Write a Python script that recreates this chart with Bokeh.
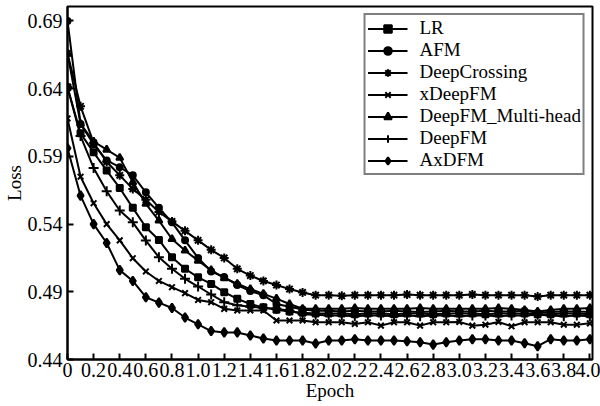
from bokeh.plotting import figure
from bokeh.models import Range1d, FixedTicker, Legend
from bokeh.embed import file_html
from bokeh.resources import INLINE

epochs = [0.0, 0.1, 0.2, 0.3, 0.4, 0.5, 0.6, 0.7, 0.8, 0.9, 1.0,
          1.1, 1.2, 1.3, 1.4, 1.5, 1.6, 1.7, 1.8, 1.9, 2.0,
          2.1, 2.2, 2.3, 2.4, 2.5, 2.6, 2.7, 2.8, 2.9, 3.0,
          3.1, 3.2, 3.3, 3.4, 3.5, 3.6, 3.7, 3.8, 3.9, 4.0]

lr = [0.641, 0.607, 0.593, 0.5795, 0.5667, 0.552, 0.5377, 0.5283, 0.5155, 0.507, 0.5007,
      0.4958, 0.4897, 0.4848, 0.481, 0.4785, 0.4768, 0.4755, 0.4745, 0.474,
      0.474, 0.474, 0.4735, 0.474, 0.474, 0.4735, 0.474, 0.474, 0.4735, 0.474, 0.474,
      0.474, 0.4735, 0.474, 0.474, 0.474, 0.4735, 0.4735, 0.474, 0.474, 0.4735]
afm = [0.690, 0.614, 0.599, 0.587, 0.582, 0.576, 0.5635, 0.552, 0.5413, 0.528, 0.515,
       0.505, 0.501, 0.495, 0.4905, 0.4875, 0.481, 0.479, 0.477, 0.476,
       0.476, 0.4755, 0.476, 0.4755, 0.4755, 0.476, 0.4755, 0.475, 0.4755, 0.476, 0.4755,
       0.4755, 0.476, 0.4755, 0.4755, 0.476, 0.4745, 0.475, 0.4755, 0.4755, 0.475]
deepcrossing = [0.666, 0.627, 0.600, 0.586, 0.576, 0.566, 0.558, 0.549, 0.542, 0.535, 0.528,
                0.521, 0.515, 0.507, 0.502, 0.498, 0.495, 0.492, 0.4895, 0.4875,
                0.4875, 0.487, 0.4875, 0.4875, 0.4875, 0.4875, 0.488, 0.4875, 0.4875, 0.4875, 0.4875,
                0.488, 0.4875, 0.4875, 0.4875, 0.4875, 0.4865, 0.4875, 0.4875, 0.4875, 0.4875]
xdeepfm = [0.618, 0.575, 0.5554, 0.540, 0.528, 0.5148, 0.505, 0.498, 0.4934, 0.489, 0.484,
           0.4823, 0.4774, 0.4762, 0.4762, 0.4762, 0.4688, 0.4688, 0.4688, 0.4675,
           0.4675, 0.4675, 0.4663, 0.4675, 0.465, 0.4675, 0.4675, 0.465, 0.4675, 0.4675, 0.4677,
           0.465, 0.4657, 0.4677, 0.4645, 0.4675, 0.4675, 0.4675, 0.4657, 0.4657, 0.4667]
deepfm_mh = [0.666, 0.614, 0.601, 0.595, 0.589, 0.571, 0.555, 0.5426, 0.529, 0.5205, 0.513,
             0.506, 0.500, 0.496, 0.492, 0.4885, 0.485, 0.481, 0.4775, 0.4775,
             0.4775, 0.4775, 0.478, 0.4775, 0.4775, 0.4775, 0.4775, 0.478, 0.4775, 0.4775, 0.4775,
             0.4775, 0.4775, 0.478, 0.4775, 0.4765, 0.4755, 0.4765, 0.4775, 0.4775, 0.478]
deepfm = [0.641, 0.605, 0.5815, 0.5642, 0.550, 0.5413, 0.5278, 0.5155, 0.507, 0.4996, 0.4939,
          0.488, 0.4823, 0.480, 0.479, 0.478, 0.4774, 0.476, 0.4735, 0.473,
          0.4725, 0.4725, 0.472, 0.4725, 0.4725, 0.472, 0.4725, 0.472, 0.4725, 0.4725, 0.472,
          0.4725, 0.4725, 0.472, 0.4725, 0.4725, 0.473, 0.4725, 0.472, 0.4725, 0.472]
axdfm = [0.596, 0.561, 0.540, 0.526, 0.506, 0.498, 0.486, 0.482, 0.478, 0.471, 0.466,
         0.461, 0.460, 0.460, 0.4577, 0.4555, 0.454, 0.454, 0.454, 0.4518,
         0.454, 0.454, 0.455, 0.454, 0.454, 0.454, 0.4535, 0.4527, 0.451, 0.4527, 0.454,
         0.455, 0.455, 0.454, 0.454, 0.452, 0.4498, 0.455, 0.454, 0.454, 0.455]

series_names = ["LR", "AFM", "DeepCrossing", "xDeepFM", "DeepFM_Multi-head", "DeepFM", "AxDFM"]
series_values = [lr, afm, deepcrossing, xdeepfm, deepfm_mh, deepfm, axdfm]
series_markers = ["square", "circle", "asterisk", "x", "triangle", "cross", "diamond"]

x_ticks = [0.0, 0.2, 0.4, 0.6, 0.8, 1.0, 1.2, 1.4, 1.6, 1.8, 2.0,
           2.2, 2.4, 2.6, 2.8, 3.0, 3.2, 3.4, 3.6, 3.8, 4.0]
x_tick_labels = ["0", "0.2", "0.4", "0.6", "0.8", "1.0", "1.2", "1.4", "1.6", "1.8", "2.0",
                 "2.2", "2.4", "2.6", "2.8", "3.0", "3.2", "3.4", "3.6", "3.8", "4.0"]
y_ticks = [0.44, 0.49, 0.54, 0.59, 0.64, 0.69]
y_tick_labels = ["0.44", "0.49", "0.54", "0.59", "0.64", "0.69"]

FONT = "Liberation Serif"

p = figure(width=600, height=406, output_backend="svg", toolbar_location=None,
           x_range=Range1d(0, 4.02), y_range=Range1d(0.44, 0.7007),
           min_border_left=64, min_border_right=8, min_border_top=6, min_border_bottom=47)
p.background_fill_color = "white"
p.border_fill_color = "white"
p.grid.visible = False
p.outline_line_color = "black"
p.outline_line_width = 2

sizes = {"square": 6, "circle": 6, "asterisk": 9, "x": 8, "triangle": 7, "cross": 10, "diamond": 9}
items = []
for name, vals, mk in zip(series_names, series_values, series_markers):
    r1 = p.line(epochs, vals, line_color="black", line_width=2)
    r2 = p.scatter(epochs, vals, marker=mk, size=sizes[mk], line_color="black",
                   fill_color="black", line_width=2)
    items.append((name, [r1, r2]))

legend = Legend(items=items, location="top_right")
legend.margin = 7
legend.padding = 2
legend.spacing = -2
legend.label_height = 19
legend.glyph_height = 19
legend.glyph_width = 40
legend.label_standoff = 12
legend.label_text_font = FONT
legend.label_text_font_size = "19px"
legend.label_text_color = "black"
legend.border_line_color = "black"
legend.border_line_width = 2
legend.background_fill_color = "white"
legend.background_fill_alpha = 1
p.add_layout(legend)

for ax in (p.xaxis[0], p.yaxis[0]):
    ax.axis_line_width = 2
    ax.axis_line_color = "black"
    ax.major_tick_in = 6
    ax.major_tick_out = 0
    ax.major_tick_line_width = 2
    ax.major_tick_line_color = "black"
    ax.minor_tick_line_color = None
    ax.major_label_text_font = FONT
    ax.major_label_text_font_size = "20px"
    ax.major_label_text_color = "black"
    ax.axis_label_text_font = FONT
    ax.axis_label_text_font_size = "19px"
    ax.axis_label_text_font_style = "normal"
    ax.axis_label_text_color = "black"

p.xaxis.ticker = FixedTicker(ticks=x_ticks)
p.xaxis.major_label_overrides = {t: l for t, l in zip(x_ticks, x_tick_labels)}
p.xaxis.major_label_standoff = 3
p.xaxis.axis_label = "Epoch"
p.xaxis.axis_label_standoff = 0

p.yaxis.ticker = FixedTicker(ticks=y_ticks)
p.yaxis.major_label_overrides = {t: l for t, l in zip(y_ticks, y_tick_labels)}
p.yaxis.major_label_standoff = 5
p.yaxis.axis_label = "Loss"
p.yaxis.axis_label_standoff = 0

open("out.html", "w").write(file_html(p, INLINE))
